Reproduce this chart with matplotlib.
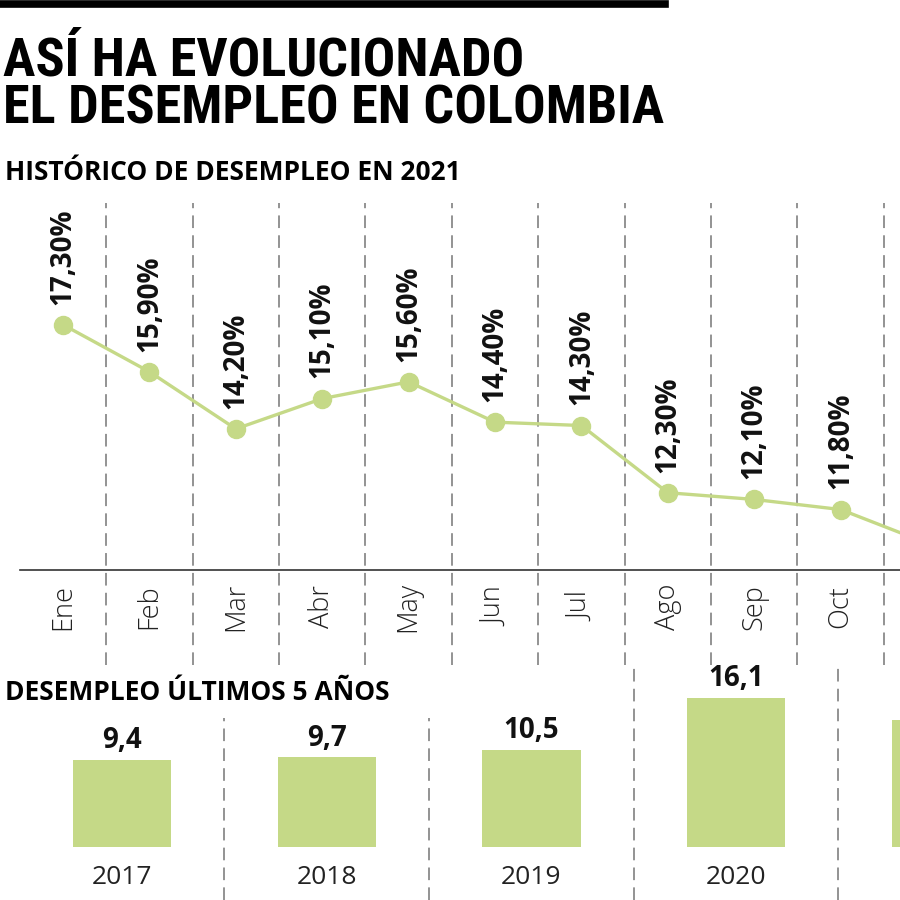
import matplotlib
matplotlib.use("Agg")
import matplotlib.pyplot as plt
from matplotlib import font_manager

# ---- data ----
months = ["Ene", "Feb", "Mar", "Abr", "May", "Jun", "Jul", "Ago", "Sep", "Oct", "Nov"]
monthly_rate = [17.3, 15.9, 14.2, 15.1, 15.6, 14.4, 14.3, 12.3, 12.1, 11.8, 10.8]
month_labels = ["17,30%", "15,90%", "14,20%", "15,10%", "15,60%", "14,40%",
                "14,30%", "12,30%", "12,10%", "11,80%", "10,80%"]

years = ["2017", "2018", "2019", "2020", "2021"]
yearly_rate = [9.4, 9.7, 10.5, 16.1, 13.7]
year_labels = ["9,4", "9,7", "10,5", "16,1", "13,7"]

GREEN = "#c5d987"
DASH = "#8a8a8a"

# pick a condensed face for the headline if one is there
names = {f.name for f in font_manager.fontManager.ttflist}
cond = "Open Sans"
for cand in ["Roboto Condensed", "Liberation Sans Narrow", "Open Sans Condensed"]:
    if cand in names:
        cond = cand
        break
plt.rcParams["font.family"] = ["Open Sans", "DejaVu Sans"]

W, H = 900, 900
fig = plt.figure(figsize=(9, 9), dpi=100)


def fy(px):
    # pixel from top -> figure fraction
    return 1 - px / H


# top rule
fig.add_artist(plt.Line2D([0, 665 / W], [fy(3.5), fy(3.5)], color="black", lw=5.5))

fig.text(3 / W, fy(75), "ASÍ HA EVOLUCIONADO", family=cond, weight="bold",
         fontsize=39, va="baseline")
fig.text(3 / W, fy(124), "EL DESEMPLEO EN COLOMBIA", family=cond, weight="bold",
         fontsize=39, va="baseline")
fig.text(5 / W, fy(180), "HISTÓRICO DE DESEMPLEO EN 2021", weight="bold",
         fontsize=19, va="baseline")
fig.text(5 / W, fy(700), "DESEMPLEO ÚLTIMOS 5 AÑOS", weight="bold",
         fontsize=19, va="baseline")

# ---- monthly line ----
ax = fig.add_axes([0, fy(665), 1, (665 - 195) / H])
ax.set_axis_off()
step = 86.4
x0 = 63
xmax = (W - x0) / step
ax.set_xlim(-x0 / step, xmax)
ax.set_ylim(10 - 95 / 33.6, 10 + 375 / 33.6)

xs = list(range(len(months)))
for i in range(len(months)):
    ax.plot([i + 0.5, i + 0.5], [10 - 95 / 33.6, 10 + 367 / 33.6], color=DASH,
            lw=1.3, ls=(0, (7, 4)), zorder=1)
ax.plot([(20 - x0) / step, xmax], [10, 10], color="#333333", lw=1.2, zorder=2)
ax.plot(xs, monthly_rate, color=GREEN, lw=2.4, marker="o", ms=13, zorder=3)

for i, (v, lab, m) in enumerate(zip(monthly_rate, month_labels, months)):
    if i + 0.3 > xmax:
        continue  # off the right edge, as in the original crop
    ax.text(i, v + 0.6, lab, rotation=90, ha="center", va="bottom",
            fontsize=20, weight="bold", color="#111111")
    ax.text(i, 10 - 37 / 33.6, m, rotation=90, ha="center", va="center",
            fontsize=19.5, weight="light", color="#222222")

# ---- yearly bars ----
bx = fig.add_axes([0, 0, 1, (900 - 665) / H])
bx.set_axis_off()
bstep = 204.7
b0 = 122
bmax = (W - b0) / bstep
bx.set_xlim(-b0 / bstep, bmax)
ytop = (847 - 665) / 9.25
bx.set_ylim(-53 / 9.25, ytop)

sep_top = [(847 - 718) / 9.25, (847 - 718) / 9.25, ytop, ytop, ytop]
for j in range(len(years)):
    bx.plot([j + 0.5, j + 0.5], [-53 / 9.25, sep_top[j]], color=DASH,
            lw=1.3, ls=(0, (7, 4)))
bx.bar(range(len(years)), yearly_rate, width=0.48, color=GREEN)
for j, (v, lab, yr) in enumerate(zip(yearly_rate, year_labels, years)):
    if j + 0.2 > bmax:
        continue
    bx.text(j, v + 0.5, lab, ha="center", va="bottom", fontsize=20,
            weight="bold", color="#111111")
    bx.text(j, -30 / 9.25, yr, ha="center", va="center", fontsize=19,
            weight="normal", color="#222222")

fig.savefig("out.png", dpi=100)
